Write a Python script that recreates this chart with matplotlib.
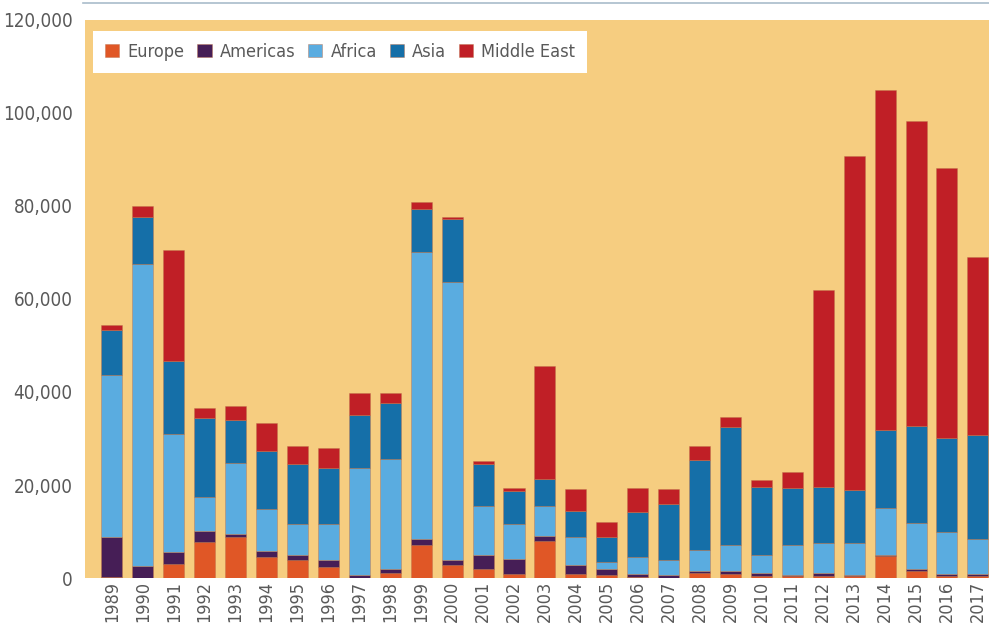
import matplotlib.pyplot as plt
from matplotlib.lines import Line2D
from matplotlib import font_manager
import numpy as np

# Years
years = [str(y) for y in range(1989, 2018)]

# Values per region (number of people)
europe = [300, 0, 3100, 7700, 8850, 4540, 3810, 2370, 100, 1000,
          7050, 2740, 2020, 940, 8060, 940, 580, 200, 0, 1085,
          775, 390, 390, 390, 390, 4650, 1470, 390, 390]
americas = [8500, 2660, 2500, 2450, 720, 1360, 1080, 1440, 480, 940,
            1370, 1070, 2870, 3160, 1080, 1800, 1440, 740, 580, 465,
            775, 695, 310, 695, 310, 310, 390, 385, 385]
africa = [34900, 64940, 25300, 7200, 15230, 8900, 6770, 7850, 23180, 23620,
          61680, 59890, 10660, 7560, 6410, 6120, 1440, 3660, 3230, 4570,
          5650, 3955, 6500, 6355, 6740, 10070, 9920, 9225, 7525]
asia = [9650, 10000, 15700, 17050, 9200, 12500, 12840, 12100, 11340, 12140,
        9240, 13480, 8930, 7140, 5750, 5610, 5400, 9500, 12090, 19150,
        25200, 14560, 12100, 12160, 11460, 16750, 21000, 20200, 22400]
middle_east = [1080, 2500, 23900, 2200, 2900, 6100, 3900, 4240, 4700, 2040,
               1460, 420, 720, 640, 24200, 4680, 3170, 5340, 3250, 3170,
               2160, 1480, 3480, 42320, 71850, 73120, 65420, 58070, 38350]

labels = ['Europe', 'Americas', 'Africa', 'Asia', 'Middle East']
colors = ['#E05726', '#461E56', '#5AACE0', '#156FA8', '#C01F26']
series = [europe, americas, africa, asia, middle_east]

# look for a narrow font (the original uses a condensed face)
narrow = None
for f in font_manager.fontManager.ttflist:
    if f.stretch in ('condensed', 'semi-condensed') or 'Narrow' in f.name or 'Condensed' in f.name:
        if f.style == 'normal' and f.weight in (400, 'normal', 'regular'):
            narrow = f
            break
if narrow is not None:
    fp = font_manager.FontProperties(fname=narrow.fname)
    fs_y, fs_x, fs_leg = 13.5, 13, 13
else:
    fp = font_manager.FontProperties(family='DejaVu Sans')
    fs_y, fs_x, fs_leg = 12, 10, 11

text_color = '#595959'

fig = plt.figure(figsize=(9.89, 6.24), dpi=100)
ax = fig.add_axes([0.086, 0.0737, 0.914, 0.8943])
ax.set_facecolor('#F6CD80')

x = np.arange(len(years))
bottom = np.zeros(len(years))
for vals, lab, col in zip(series, labels, colors):
    ax.bar(x, vals, width=0.68, bottom=bottom, color=col, label=lab,
           edgecolor=(0.75, 0.45, 0.3, 0.5), linewidth=0.6)
    bottom += np.array(vals)

ax.set_xlim(-0.87, 28.36)
ax.set_ylim(0, 120000)
ax.set_yticks(range(0, 120001, 20000))
ax.set_yticklabels([f'{v:,}' for v in range(0, 120001, 20000)])
ax.set_xticks(x)
ax.set_xticklabels(years, rotation=90)
ax.tick_params(axis='both', length=0, colors=text_color)
ax.tick_params(axis='x', pad=2)
ax.tick_params(axis='y', pad=9)
for t in ax.get_xticklabels():
    t.set_fontproperties(fp)
    t.set_fontsize(fs_x)
for t in ax.get_yticklabels():
    t.set_fontproperties(fp)
    t.set_fontsize(fs_y)
for s in ax.spines.values():
    s.set_visible(False)

leg_fp = fp.copy()
leg_fp.set_size(fs_leg)
leg = ax.legend(loc='upper left', ncol=5, prop=leg_fp, frameon=True,
                fancybox=False, framealpha=1, edgecolor='white',
                handlelength=0.8, handleheight=0.8, handletextpad=0.45,
                columnspacing=0.7, borderpad=0.65, borderaxespad=0,
                bbox_to_anchor=(0.009, 0.98))
leg.get_frame().set_linewidth(0)
for t in leg.get_texts():
    t.set_color(text_color)

# thin rule at the top of the figure
fig.add_artist(Line2D([0.084, 1.0], [0.995, 0.995], color='#A9BCCB', linewidth=1.2))

plt.savefig('out.png', dpi=100)
